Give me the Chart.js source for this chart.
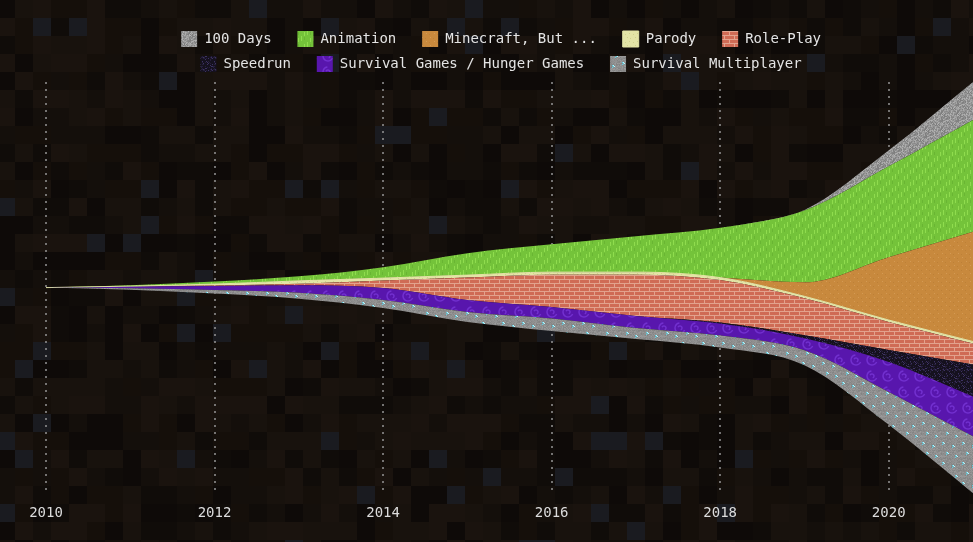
<!DOCTYPE html>
<html>
<head>
<meta charset="utf-8">
<script src="https://cdn.jsdelivr.net/npm/chart.js@4.4.1/dist/chart.umd.min.js"></script>
<style>
  html, body { margin: 0; padding: 0; background: #120d0a; overflow: hidden; }
  canvas { display: block; }
</style>
</head>
<body>
<canvas id="stream" width="973" height="542"></canvas>
<script>
// yearly values per genre (stream thickness)
const years = ['2010','2011','2012','2013','2014','2015','2016','2017','2018','2019','2020','2021'];
const hundredDays   = [0, 0,   0,   0,   0,   0,    0,    0,    0,    0.5, 16, 38];
const animation     = [0, 0.8, 2.5, 4.5, 11,  22,   28,   36,   50,   72,  91, 112];
const minecraftBut  = [0, 0,   0,   0,   0,   0,    0,    0,    0,    14,  63, 110];
const parody        = [0, 0.5, 1.5, 3,   2.5, 2.5,  2.5,  2.5,  2.5,  2,   2,  2];
const rolePlay      = [0, 0.2, 0.5, 1.5, 7.5, 22.5, 32.5, 41.5, 42.5, 37,  28, 21];
const speedrun      = [0, 0,   0,   0,   0,   0,    0,    0,    1,    3,   12, 32];
const survivalGames = [0, 1.5, 4,   7.5, 12,  12,   11.5, 12,   12,   12,  30, 40];
const survivalMulti = [0, 1.5, 3.5, 6,   8,   10,   12.5, 11,   12,   15,  33, 57];

const FONT = '"DejaVu Sans Mono", monospace';

function hash(x, y, s) {
  let n = Math.imul(x + 1, 374761393) ^ Math.imul(y + 7, 668265263) ^ Math.imul(s + 3, 1442695041);
  n = Math.imul(n ^ (n >>> 13), 1274126177);
  n ^= n >>> 16;
  return (n >>> 0) / 4294967296;
}

function tex(w, h, paint) {
  const c = document.createElement('canvas');
  c.width = w; c.height = h;
  const g = c.getContext('2d');
  paint(g, w, h);
  return g.createPattern(c, 'repeat');
}

// minecraft-ish block textures
const gravel = tex(16, 16, (g, w, h) => {
  for (let x = 0; x < w; x++) for (let y = 0; y < h; y++) {
    const v = 125 + Math.floor(hash(x, y, 1) * 55);
    g.fillStyle = `rgb(${v},${v},${v})`;
    g.fillRect(x, y, 1, 1);
  }
});
const grass = tex(12, 12, (g, w, h) => {
  g.fillStyle = '#74c33a'; g.fillRect(0, 0, w, h);
  g.fillStyle = '#8fdc4e';
  g.fillRect(1, 0, 1, 5); g.fillRect(7, 6, 1, 5); g.fillRect(4, 8, 1, 4); g.fillRect(10, 2, 1, 4);
  g.fillStyle = '#69b533';
  g.fillRect(4, 1, 1, 3); g.fillRect(10, 8, 1, 3);
});
const pumpkin = tex(8, 8, (g, w, h) => {
  g.fillStyle = '#c8893d'; g.fillRect(0, 0, w, h);
  g.fillStyle = '#d49a54';
  g.fillRect(2, 1, 1, 1); g.fillRect(6, 5, 1, 1);
  g.fillStyle = '#bd8037';
  g.fillRect(5, 2, 1, 1); g.fillRect(1, 6, 1, 1);
});
const endstone = tex(8, 8, (g, w, h) => {
  g.fillStyle = '#e3e4a6'; g.fillRect(0, 0, w, h);
  g.fillStyle = '#d0d18c';
  g.fillRect(1, 2, 1, 1); g.fillRect(5, 1, 1, 1); g.fillRect(3, 5, 1, 1); g.fillRect(6, 6, 1, 1);
});
const brick = tex(10, 8, (g, w, h) => {
  g.fillStyle = '#e2a28d'; g.fillRect(0, 0, w, h);
  g.fillStyle = '#cf6b55';
  g.fillRect(0, 0, 9, 3);
  g.fillRect(5, 4, 5, 3); g.fillRect(0, 4, 4, 3);
});
const obsidian = tex(12, 12, (g, w, h) => {
  g.fillStyle = '#15111e'; g.fillRect(0, 0, w, h);
  for (let x = 0; x < w; x++) for (let y = 0; y < h; y++) {
    const r = hash(x, y, 4);
    if (r > 0.9) { g.fillStyle = '#3d3262'; g.fillRect(x, y, 1, 1); }
    else if (r > 0.78) { g.fillStyle = '#251e3a'; g.fillRect(x, y, 1, 1); }
  }
});
const portal = tex(16, 16, (g, w, h) => {
  g.fillStyle = '#5816ad'; g.fillRect(0, 0, w, h);
  g.strokeStyle = '#7230cf'; g.lineWidth = 1.5;
  g.beginPath(); g.arc(8, 8, 5, 0.4, 4.6); g.stroke();
  g.beginPath(); g.arc(8, 8, 2, 3.5, 7.5); g.stroke();
});
const diamond = tex(20, 20, (g, w, h) => {
  for (let x = 0; x < w; x++) for (let y = 0; y < h; y++) {
    const v = 130 + Math.floor(hash(x, y, 2) * 26);
    g.fillStyle = `rgb(${v},${v},${v})`;
    g.fillRect(x, y, 1, 1);
  }
  const clusters = [[2, 2], [12, 5], [6, 12], [15, 15]];
  clusters.forEach(([cx, cy]) => {
    g.fillStyle = '#5bcfe3';
    g.fillRect(cx, cy, 2, 1); g.fillRect(cx + 1, cy + 1, 2, 1); g.fillRect(cx, cy + 2, 1, 1);
    g.fillStyle = '#bff5fb';
    g.fillRect(cx + 1, cy, 1, 1); g.fillRect(cx + 2, cy + 1, 1, 1);
  });
});

const layers = [
  { label: 'Survival Multiplayer', data: survivalMulti, fill: diamond },
  { label: 'Survival Games / Hunger Games', data: survivalGames, fill: portal },
  { label: 'Speedrun', data: speedrun, fill: obsidian },
  { label: 'Role-Play', data: rolePlay, fill: brick },
  { label: 'Parody', data: parody, fill: endstone },
  { label: 'Minecraft, But ...', data: minecraftBut, fill: pumpkin },
  { label: 'Animation', data: animation, fill: grass },
  { label: '100 Days', data: hundredDays, fill: gravel }
];

// silhouette offset: centre every year's stack on the same middle line
const totals = years.map((_, i) => layers.reduce((s, l) => s + l.data[i], 0));
const maxTotal = Math.max(...totals);
const baseline = totals.map(t => (maxTotal - t) / 2);

const datasets = [{
  label: '__base', data: baseline, fill: false,
  borderColor: 'rgba(0,0,0,0)', borderWidth: 0, pointRadius: 0, pointHoverRadius: 0,
  cubicInterpolationMode: 'monotone'
}].concat(layers.map(l => ({
  label: l.label,
  data: l.data,
  fill: '-1',
  backgroundColor: l.fill,
  borderColor: l.label === 'Parody' ? '#e3e4a6' : 'rgba(0,0,0,0)',
  borderWidth: l.label === 'Parody' ? 1 : 0,
  pointRadius: 0,
  pointHoverRadius: 0,
  cubicInterpolationMode: 'monotone'
})));

const tiles = {
  id: 'tiles',
  beforeDraw(chart) {
    const { ctx, width, height } = chart;
    const pal = ['#100c09', '#140f0b', '#18120d', '#1a130e', '#0e0a08', '#150f0a'];
    for (let j = 0; j * 18 < height; j++) {
      for (let i = 0; i * 18 - 3 < width; i++) {
        const r = hash(i, j, 9);
        ctx.fillStyle = r < 0.04 ? '#1a1b20' : pal[Math.floor(hash(i, j, 5) * pal.length)];
        ctx.fillRect(i * 18 - 3, j * 18, 18, 18);
      }
    }
  }
};

// make the legend wrap after Role-Play like the original
const LEGEND_W = 730;
const legendWrap = {
  id: 'legendWrap',
  beforeUpdate(chart) {
    const lg = chart.legend;
    if (lg && !lg.__wrapped) {
      const orig = lg.update;
      lg.update = function (w, h, m) { return orig.call(this, Math.min(w, LEGEND_W), h, m); };
      lg.__wrapped = true;
    }
  },
  afterLayout(chart) {
    const lg = chart.legend;
    const cx = (chart.chartArea.left + chart.chartArea.right) / 2;
    lg.left = cx - LEGEND_W / 2;
    lg.right = cx + LEGEND_W / 2;
    lg.width = LEGEND_W;
  }
};

new Chart(document.getElementById('stream'), {
  type: 'line',
  data: { labels: years, datasets: datasets },
  plugins: [tiles, legendWrap],
  options: {
    responsive: false,
    animation: false,
    layout: { autoPadding: false, padding: { left: 46, right: 0, top: 22, bottom: 20 } },
    plugins: {
      tooltip: { enabled: false },
      legend: {
        position: 'top',
        fullSize: false,
        reverse: true,
        labels: {
          color: '#e4e4e4',
          font: { family: FONT, size: 14 },
          boxWidth: 16,
          boxHeight: 16,
          padding: 9,
          filter: item => item.text !== '__base',
          generateLabels(chart) {
            const items = Chart.defaults.plugins.legend.labels.generateLabels(chart);
            items.forEach(it => { if (it.text !== '__base') it.text = it.text + '  '; });
            return items;
          }
        }
      }
    },
    scales: {
      x: {
        grid: {
          drawTicks: true,
          tickLength: 12,
          tickColor: 'rgba(0,0,0,0)',
          lineWidth: 2,
          color: c => (c.index % 2 === 0 ? 'rgba(150,150,150,0.75)' : 'rgba(0,0,0,0)')
        },
        border: { display: false, dash: [2, 5] },
        ticks: {
          autoSkip: false,
          maxRotation: 0,
          padding: 0,
          color: '#dcdcdc',
          font: { family: FONT, size: 14 },
          callback: (v, i) => (i % 2 === 0 ? years[i] : '')
        }
      },
      y: {
        stacked: true,
        display: false,
        bounds: 'data'
      }
    }
  }
});
</script>
</body>
</html>
